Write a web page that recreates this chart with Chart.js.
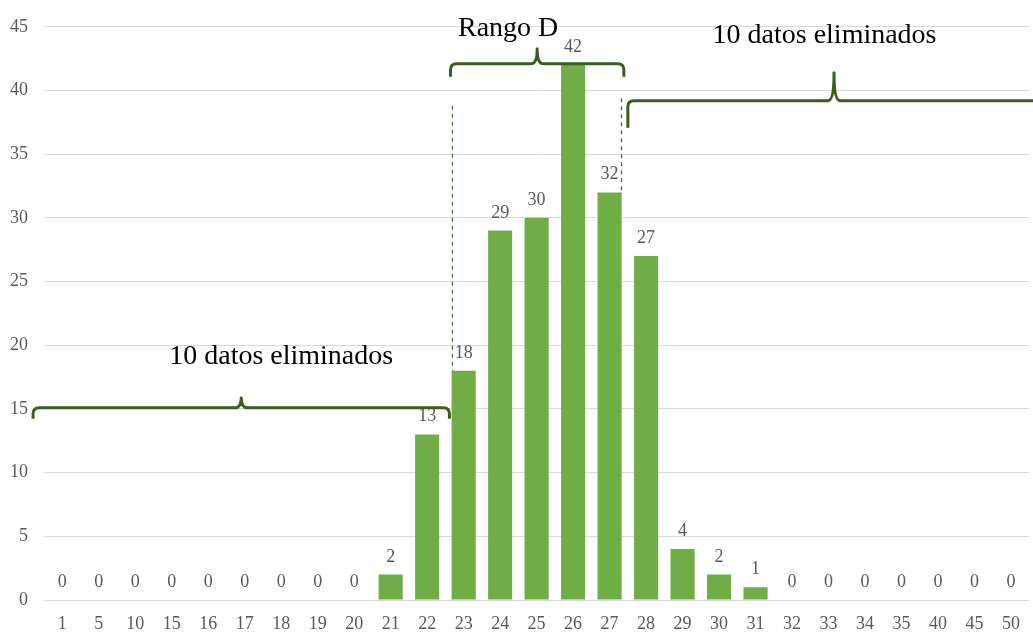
<!DOCTYPE html>
<html>
<head>
<meta charset="utf-8">
<script src="https://cdn.jsdelivr.net/npm/chart.js@4"></script>
<style>
  html, body { margin: 0; padding: 0; background: #fff; }
  canvas { display: block; }
</style>
</head>
<body>
<canvas id="chart" width="1033" height="635"></canvas>
<script>
// ---- data ----
const categories = ["1", "5", "10", "15", "16", "17", "18", "19", "20", "21", "22", "23", "24", "25",
  "26", "27", "28", "29", "30", "31", "32", "33", "34", "35", "40", "45", "50"];
const counts = [0, 0, 0, 0, 0, 0, 0, 0, 0, 2, 13, 18, 29, 30, 42, 32, 27, 4, 2, 1, 0, 0, 0, 0, 0, 0, 0];
const yTicks = [0, 5, 10, 15, 20, 25, 30, 35, 40, 45];

// annotations, in category index / value units
const braces = [
  { from: -0.8, to: 10.61, at: 15.1, hook: 11, tip: 10 },
  { from: 10.64, to: 15.39, at: 42.1, hook: 13, tip: 15 },
  { from: 15.5, to: 26.8, at: 39.2, hook: 27, tip: 28 },
];
const dashes = [
  { x: 10.67, from: 38.8, to: 18 },
  { x: 15.31, from: 39.4, to: 32 },
];
const notes = [
  { text: "10 datos eliminados", x: 6.0, y: 18.5 },
  { text: "Rango D", x: 12.22, y: 44.3 },
  { text: "10 datos eliminados", x: 20.89, y: 43.7 },
];

const SERIF = "'Liberation Serif', 'Times New Roman', serif";
const BRACE_COLOR = "#3b5e20";

// value labels above bars
const valueLabels = {
  id: "valueLabels",
  afterDatasetsDraw(chart) {
    const { ctx } = chart;
    const meta = chart.getDatasetMeta(0);
    ctx.save();
    ctx.fillStyle = "#595959";
    ctx.font = "18px " + SERIF;
    ctx.textAlign = "center";
    ctx.textBaseline = "alphabetic";
    meta.data.forEach((bar, i) => {
      ctx.fillText(String(counts[i]), bar.x, bar.y - 13);
    });
    ctx.restore();
  },
};

// braces, dashed lines and notes
const annotations = {
  id: "annotations",
  afterDraw(chart) {
    const { ctx } = chart;
    const xs = chart.scales.x, ys = chart.scales.y;
    ctx.save();

    // dashed guides
    ctx.strokeStyle = "#3f6330";
    ctx.lineWidth = 1.2;
    ctx.setLineDash([4, 4]);
    for (const d of dashes) {
      const x = Math.round(xs.getPixelForValue(d.x)) + 0.5;
      ctx.beginPath();
      ctx.moveTo(x, ys.getPixelForValue(d.from));
      ctx.lineTo(x, ys.getPixelForValue(d.to));
      ctx.stroke();
    }
    ctx.setLineDash([]);

    // curly braces
    ctx.strokeStyle = BRACE_COLOR;
    ctx.lineWidth = 3;
    ctx.lineJoin = "round";
    const r = 6;
    for (const b of braces) {
      const x1 = xs.getPixelForValue(b.from);
      const x2 = xs.getPixelForValue(b.to);
      const xm = (x1 + x2) / 2;
      const y = ys.getPixelForValue(b.at);
      ctx.beginPath();
      ctx.moveTo(x1, y + b.hook);
      ctx.lineTo(x1, y + r);
      ctx.quadraticCurveTo(x1, y, x1 + r, y);
      ctx.lineTo(xm - r, y);
      ctx.quadraticCurveTo(xm, y, xm, y - b.tip);
      ctx.quadraticCurveTo(xm, y, xm + r, y);
      ctx.lineTo(x2 - r, y);
      ctx.quadraticCurveTo(x2, y, x2, y + r);
      ctx.lineTo(x2, y + b.hook);
      ctx.stroke();
    }

    // notes
    ctx.fillStyle = "#000";
    ctx.font = "28px " + SERIF;
    ctx.textAlign = "center";
    ctx.textBaseline = "alphabetic";
    for (const n of notes) {
      ctx.fillText(n.text, xs.getPixelForValue(n.x), ys.getPixelForValue(n.y));
    }
    ctx.restore();
  },
};

new Chart(document.getElementById("chart"), {
  type: "bar",
  data: {
    labels: categories,
    datasets: [{
      data: counts,
      backgroundColor: "#70ad47",
      categoryPercentage: 1,
      barPercentage: 0.66,
    }],
  },
  options: {
    responsive: false,
    animation: false,
    layout: { padding: { top: 23, right: 0, bottom: 0, left: 0 } },
    plugins: {
      legend: { display: false },
      tooltip: { enabled: false },
    },
    scales: {
      x: {
        grid: { display: false, drawTicks: false },
        border: { display: false },
        ticks: { color: "#595959", font: { family: SERIF, size: 18 }, padding: 13, maxRotation: 0, autoSkip: false },
        afterFit: (s) => { s.height = 35; },
      },
      y: {
        min: 0,
        max: 45,
        afterBuildTicks: (s) => { s.ticks = yTicks.map(v => ({ value: v })); },
        grid: { color: "#d9d9d9", drawTicks: false },
        border: { display: false },
        ticks: { color: "#595959", font: { family: SERIF, size: 18 }, padding: 16 },
        afterFit: (s) => { s.width = 44; },
      },
    },
  },
  plugins: [valueLabels, annotations],
});
</script>
</body>
</html>
